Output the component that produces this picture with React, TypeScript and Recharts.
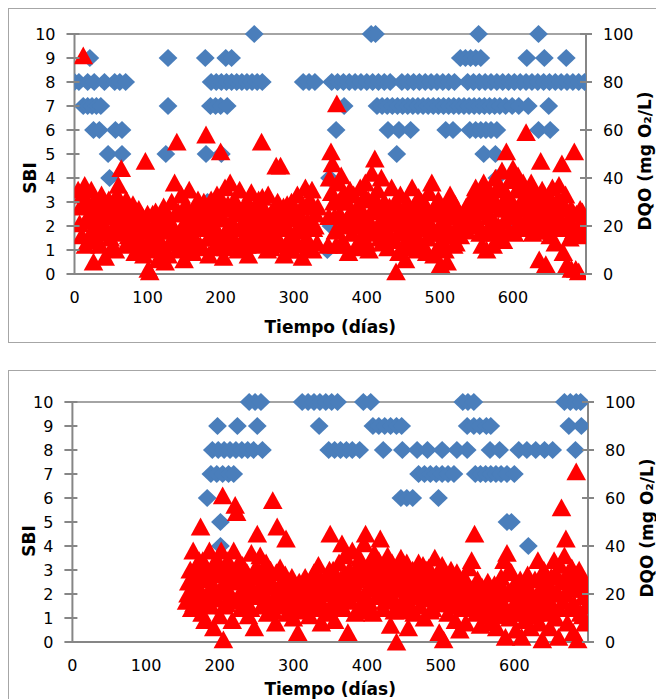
import { ScatterChart, Scatter, XAxis, YAxis, ReferenceLine } from "recharts";

const BLUE = "#4A7EBB";
const RED = "#FF0000";
const AXIS_GREY = "#868686";
const FRAME_GREY = "#A6A6A6";
const FONT = "'DejaVu Sans', sans-serif";

const dayTicks = [0, 100, 200, 300, 400, 500, 600];
const sbiTicks = [0, 1, 2, 3, 4, 5, 6, 7, 8, 9, 10];
const dqoTicks = [0, 20, 40, 60, 80, 100];

// upper reactor: SBI readings as [day, SBI]
const sbiTop: [number, number][] = [
  [246, 10], [406, 10], [412, 10], [553, 10], [635, 10],
  [21, 9], [128, 9], [179, 9], [207, 9], [215, 9], [528, 9], [535, 9], [542, 9], [549, 9], [556, 9], [619, 9], [643, 9], [673, 9],
  [0, 8], [6, 8], [18, 8], [27, 8], [41, 8], [55, 8], [62, 8], [70, 8],
  [187, 8], [194, 8], [201, 8], [208, 8], [215, 8], [222, 8], [229, 8], [236, 8], [243, 8], [250, 8], [257, 8],
  [313, 8], [321, 8], [329, 8],
  [352, 8], [360, 8], [368, 8], [376, 8], [384, 8], [392, 8], [400, 8], [408, 8], [416, 8], [424, 8], [432, 8],
  [448, 8], [456, 8], [464, 8], [472, 8], [480, 8], [488, 8], [496, 8], [504, 8], [512, 8], [520, 8],
  [538, 8], [546, 8], [554, 8], [562, 8], [570, 8], [578, 8], [586, 8], [594, 8], [602, 8], [610, 8], [618, 8],
  [626, 8], [634, 8], [642, 8], [650, 8], [658, 8], [666, 8], [674, 8], [682, 8], [690, 8], [698, 8],
  [12, 7], [18, 7], [24, 7], [30, 7], [36, 7], [128, 7], [186, 7], [193, 7], [200, 7], [209, 7], [369, 7],
  [414, 7], [421, 7], [428, 7], [435, 7], [442, 7], [449, 7], [456, 7], [463, 7], [470, 7], [477, 7],
  [484, 7], [491, 7], [498, 7], [505, 7], [512, 7], [519, 7], [526, 7], [533, 7], [540, 7], [547, 7],
  [554, 7], [561, 7], [568, 7], [575, 7], [582, 7], [590, 7], [599, 7], [608, 7], [621, 7], [649, 7],
  [26, 6], [34, 6], [56, 6], [65, 6], [358, 6], [429, 6], [444, 6], [460, 6], [508, 6], [518, 6],
  [541, 6], [549, 6], [556, 6], [563, 6], [570, 6], [578, 6], [635, 6], [651, 6],
  [46, 5], [65, 5], [125, 5], [180, 5], [201, 5], [441, 5], [560, 5], [576, 5],
  [48, 4], [349, 4], [578, 4],
  [182, 3],
  [351, 2], [600, 2],
  [346, 1],
];

// upper reactor: DQO as [day, mg O2/L]
const dqoTop: [number, number][] = [
  [5, 35], [8, 28], [10, 16], [12, 91], [14, 37], [16, 22], [18, 30], [20, 14], [22, 26], [24, 18],
  [26, 5], [28, 31], [30, 20], [33, 25], [35, 12], [38, 29], [40, 17], [42, 7], [45, 24], [47, 31],
  [49, 15], [52, 27], [54, 20], [56, 10], [58, 33], [60, 37], [62, 25], [64, 44], [66, 18], [68, 28],
  [70, 12], [72, 22], [75, 26], [78, 16], [80, 29], [83, 9], [85, 21], [88, 27], [90, 14], [93, 24],
  [95, 8], [97, 47], [99, 20], [101, 2], [103, 1], [105, 16], [107, 25], [110, 10], [112, 19], [114, 6],
  [117, 23], [119, 13], [122, 28], [124, 5], [126, 18], [128, 8], [131, 22], [133, 30], [135, 15], [137, 38],
  [140, 55], [142, 26], [144, 12], [146, 33], [148, 20], [150, 6], [152, 29], [155, 17], [157, 35], [160, 23],
  [162, 9], [164, 27], [166, 14], [169, 31], [171, 19], [173, 26], [175, 11], [177, 30], [180, 58], [182, 21],
  [184, 8], [186, 25], [188, 15], [190, 28], [193, 19], [195, 33], [197, 12], [200, 51], [202, 24], [204, 7],
  [206, 36], [208, 17], [210, 29], [213, 38], [215, 22], [217, 14], [219, 31], [222, 25], [224, 10], [226, 35],
  [228, 20], [231, 27], [233, 16], [235, 30], [238, 8], [240, 23], [242, 34], [245, 18], [247, 26], [249, 12],
  [252, 31], [254, 21], [256, 55], [258, 28], [260, 15], [262, 24], [265, 33], [267, 19], [269, 11], [272, 27],
  [274, 22], [276, 45], [278, 30], [280, 14], [282, 45], [284, 25], [287, 8], [289, 19], [291, 29], [294, 15],
  [296, 23], [298, 10], [300, 27], [303, 18], [305, 33], [307, 12], [310, 24], [312, 7], [314, 21], [316, 36],
  [318, 15], [320, 28], [323, 11], [325, 35], [327, 19], [330, 25], [332, 13],
  [347, 12], [349, 40], [351, 51], [353, 46], [355, 30], [357, 18], [359, 71], [361, 38], [363, 25], [365, 41],
  [367, 14], [369, 34], [371, 22], [373, 30], [375, 9], [378, 26], [380, 17], [382, 33], [384, 11], [387, 28],
  [389, 20], [391, 36], [393, 15], [396, 25], [398, 38], [400, 13], [402, 31], [404, 22], [407, 42], [409, 17],
  [411, 48], [413, 27], [415, 35], [418, 15], [420, 40], [422, 24], [424, 30], [427, 19], [429, 11], [431, 28],
  [434, 36], [436, 21], [438, 14], [440, 1], [442, 27], [444, 9], [446, 33], [449, 18], [451, 25], [453, 6],
  [455, 30], [458, 14], [460, 22], [462, 36], [465, 17], [467, 27], [469, 10], [471, 32], [474, 19], [476, 25],
  [478, 12], [480, 29], [483, 15], [485, 34], [487, 21], [489, 38], [492, 8], [494, 26], [496, 17], [498, 31],
  [501, 4], [503, 22], [505, 13], [508, 28], [510, 5], [512, 19], [514, 33], [517, 24], [519, 12], [521, 29],
  [524, 20], [526, 26], [528, 16], [531, 22], [534, 25], [537, 18], [540, 27], [543, 23], [546, 30], [549, 36],
  [551, 26], [553, 21], [556, 33], [558, 12], [560, 38], [562, 28], [564, 10], [567, 24], [569, 34], [571, 17],
  [573, 12], [576, 40], [578, 29], [580, 20], [582, 36], [585, 43], [587, 14], [589, 31], [591, 51], [593, 24],
  [596, 39], [598, 28], [600, 44], [602, 17], [605, 35], [607, 41], [609, 22], [611, 30], [614, 38], [616, 19],
  [618, 59], [620, 33], [622, 25], [625, 38], [627, 17], [629, 29], [632, 22], [634, 31], [636, 6], [638, 47],
  [640, 35], [642, 20], [645, 4], [647, 26], [649, 33], [651, 16], [654, 36], [656, 24], [658, 13], [660, 30],
  [663, 37], [665, 21], [667, 46], [669, 9], [671, 28], [674, 4], [676, 23], [678, 15], [680, 2], [682, 26],
  [684, 51], [686, 2], [688, 19], [690, 1], [692, 27], [694, 16], [696, 22],
  [7, 21], [11, 33], [15, 12], [19, 24], [23, 35], [29, 15], [32, 22], [37, 33], [43, 19], [46, 28],
  [51, 11], [55, 24], [59, 17], [63, 30], [67, 22], [71, 31], [74, 16], [77, 22], [81, 13], [84, 25],
  [87, 18], [92, 11], [96, 19], [100, 25], [104, 12], [108, 20], [111, 26], [115, 14], [118, 18], [121, 9],
  [125, 24], [130, 13], [134, 20], [138, 25], [141, 10], [145, 18], [149, 26], [153, 13], [156, 22], [159, 11],
  [163, 19], [168, 24], [172, 12], [176, 20], [179, 27], [183, 15], [187, 31], [191, 11], [196, 23], [199, 16],
  [203, 30], [207, 11], [211, 20], [214, 27], [218, 19], [221, 13], [225, 27], [229, 14], [232, 22], [236, 12],
  [239, 29], [243, 15], [246, 20], [250, 24], [253, 14], [257, 32], [261, 19], [264, 10], [268, 24], [271, 15],
  [275, 20], [279, 23], [283, 12], [286, 28], [290, 20], [293, 10], [297, 30], [301, 14], [304, 24], [308, 19],
  [311, 28], [315, 13], [319, 22], [322, 31], [326, 10], [329, 20], [333, 28],
  [348, 24], [352, 34], [356, 24], [358, 12], [362, 30], [366, 20], [370, 12], [374, 22], [377, 35], [381, 25],
  [385, 20], [388, 12], [392, 22], [395, 31], [399, 19], [403, 10], [406, 26], [410, 32], [414, 18], [417, 28],
  [421, 13], [425, 22], [428, 27], [432, 16], [435, 24], [439, 30], [443, 17], [447, 22], [450, 12], [454, 19],
  [457, 26], [461, 11], [464, 28], [468, 20], [472, 14], [475, 30], [479, 22], [482, 9], [486, 25], [490, 17],
  [493, 28], [497, 11], [500, 25], [504, 18], [507, 10], [511, 24], [515, 16], [518, 30], [522, 13], [525, 21],
  [529, 24], [533, 19], [536, 28], [539, 21], [542, 31], [545, 20], [548, 26], [552, 31], [555, 17], [559, 26],
  [563, 33], [566, 19], [570, 30], [574, 22], [577, 35], [581, 15], [584, 27], [588, 22], [592, 33], [595, 18],
  [599, 30], [603, 25], [606, 20], [610, 36], [613, 27], [617, 31], [621, 20], [624, 28], [628, 35], [631, 18],
  [635, 25], [639, 28], [643, 30], [646, 18], [650, 22], [653, 28], [657, 19], [661, 25], [664, 30], [668, 19],
  [672, 33], [675, 21], [679, 27], [683, 18], [687, 25], [691, 21], [695, 26], [698, 18],
];

// lower reactor: SBI readings as [day, SBI]
const sbiBottom: [number, number][] = [
  [240, 10], [248, 10], [256, 10], [312, 10], [320, 10], [328, 10], [336, 10], [344, 10], [352, 10], [360, 10],
  [395, 10], [405, 10], [530, 10], [537, 10], [545, 10], [668, 10], [676, 10], [684, 10], [690, 10],
  [197, 9], [224, 9], [251, 9], [335, 9], [408, 9], [416, 9], [424, 9], [432, 9], [440, 9], [447, 9],
  [536, 9], [545, 9], [553, 9], [562, 9], [568, 9], [674, 9], [691, 9],
  [190, 8], [198, 8], [206, 8], [214, 8], [222, 8], [230, 8], [238, 8], [246, 8], [258, 8],
  [348, 8], [356, 8], [364, 8], [372, 8], [380, 8], [390, 8], [422, 8], [448, 8], [468, 8], [482, 8],
  [502, 8], [522, 8], [536, 8], [567, 8], [580, 8], [606, 8], [617, 8], [629, 8], [641, 8], [652, 8], [683, 8],
  [188, 7], [196, 7], [204, 7], [212, 7], [219, 7], [470, 7], [478, 7], [486, 7], [494, 7], [502, 7], [510, 7],
  [518, 7], [547, 7], [554, 7], [561, 7], [568, 7], [575, 7], [582, 7], [590, 7], [600, 7],
  [183, 6], [446, 6], [454, 6], [462, 6], [497, 6],
  [201, 5], [590, 5], [596, 5],
  [201, 4], [619, 4],
];

// lower reactor: DQO as [day, mg O2/L]
const dqoBottom: [number, number][] = [
  [155, 17], [158, 25], [160, 30], [162, 14], [164, 38], [166, 22], [168, 28], [170, 19], [172, 34], [174, 48],
  [176, 12], [178, 26], [180, 9], [182, 31], [184, 20], [186, 38], [188, 15], [190, 24], [192, 6], [194, 33],
  [196, 18], [198, 28], [200, 11], [202, 38], [204, 61], [205, 1], [207, 24], [209, 16], [211, 34], [213, 21],
  [215, 29], [217, 9], [219, 38], [221, 57], [223, 54], [225, 19], [227, 27], [229, 14], [231, 32], [233, 22],
  [235, 17], [237, 29], [239, 11], [241, 24], [243, 37], [245, 19], [247, 6], [249, 31], [251, 45], [253, 22],
  [255, 36], [257, 15], [259, 27], [261, 20], [263, 33], [265, 12], [267, 25], [269, 30], [271, 17], [272, 59],
  [274, 23], [276, 8], [278, 48], [280, 21], [282, 31], [284, 15], [286, 26], [288, 19], [290, 43], [292, 12],
  [294, 24], [296, 18], [298, 27], [300, 10], [302, 22], [304, 16], [306, 4], [308, 25], [310, 19], [312, 13],
  [314, 23], [316, 27], [318, 15], [320, 20], [322, 11], [324, 26], [326, 18], [328, 29], [330, 14], [332, 22],
  [334, 32], [336, 17], [338, 8], [340, 25], [342, 20], [344, 12], [346, 27], [348, 21], [350, 45], [352, 16],
  [354, 30], [356, 9], [358, 24], [360, 19], [362, 33], [364, 26], [366, 41], [368, 14], [370, 36], [372, 22],
  [374, 4], [376, 30], [378, 17], [380, 38], [382, 25], [384, 12], [386, 31], [388, 20], [390, 35], [392, 15],
  [394, 27], [396, 41], [398, 45], [400, 22], [402, 17], [404, 33], [406, 24], [408, 12], [410, 37], [412, 28],
  [414, 19], [416, 34], [418, 43], [420, 25], [422, 14], [424, 31], [426, 20], [428, 36], [430, 27], [432, 7],
  [434, 33], [436, 18], [438, 24], [440, 0], [442, 30], [444, 13], [446, 35], [448, 22], [450, 28], [452, 16],
  [454, 33], [456, 6], [458, 25], [460, 19], [462, 30], [464, 12], [466, 27], [468, 20], [470, 33], [472, 15],
  [474, 24], [476, 32], [478, 10], [480, 28], [482, 18], [484, 31], [486, 13], [488, 26], [490, 21], [492, 35],
  [494, 16], [496, 29], [498, 4], [500, 24], [502, 32], [504, 1], [506, 19], [508, 27], [510, 12], [512, 23],
  [514, 30], [516, 15], [518, 26], [520, 9], [522, 29], [524, 18], [526, 5], [528, 24], [530, 14], [532, 27],
  [534, 8], [536, 20], [538, 31], [540, 16], [542, 34], [544, 22], [546, 45], [548, 12], [550, 26], [552, 19],
  [554, 7], [556, 23], [558, 15], [560, 20], [562, 11], [564, 25], [566, 17], [568, 8], [570, 21], [572, 14],
  [574, 19], [576, 6], [578, 23], [580, 12], [582, 27], [584, 16], [586, 34], [588, 2], [590, 37], [592, 21],
  [594, 10], [596, 29], [598, 15], [600, 24], [602, 5], [604, 18], [606, 12], [608, 26], [610, 2], [612, 17],
  [614, 9], [616, 22], [618, 28], [620, 14], [622, 6], [624, 20], [626, 11], [628, 26], [630, 16], [632, 34],
  [634, 8], [636, 22], [638, 1], [640, 30], [642, 13], [644, 24], [646, 18], [648, 6], [650, 27], [652, 15],
  [654, 34], [656, 10], [658, 21], [660, 2], [662, 32], [664, 56], [666, 17], [668, 36], [670, 43], [672, 8],
  [674, 26], [676, 14], [678, 31], [680, 4], [682, 23], [684, 71], [686, 1], [688, 30], [690, 12], [692, 27],
  [694, 19], [696, 8], [698, 15],
  [157, 20], [161, 26], [165, 16], [169, 30], [173, 22], [177, 34], [181, 17], [185, 27], [189, 31], [193, 21],
  [197, 34], [201, 22], [203, 29], [206, 15], [210, 27], [214, 31], [218, 17], [222, 25], [226, 33], [230, 20],
  [234, 28], [238, 21], [242, 14], [246, 27], [250, 20], [254, 29], [258, 23], [262, 16], [266, 31], [270, 24],
  [273, 13], [277, 29], [281, 19], [285, 23], [289, 28], [293, 18], [297, 22], [301, 16], [305, 21], [309, 14],
  [313, 19], [317, 24], [321, 17], [325, 22], [329, 24], [333, 18], [337, 26], [341, 15], [345, 21], [349, 30],
  [353, 23], [357, 28], [361, 14], [365, 22], [369, 28], [373, 18], [377, 25], [381, 21], [385, 26], [389, 13],
  [393, 30], [397, 19], [401, 28], [405, 14], [409, 25], [413, 31], [417, 21], [421, 28], [425, 17], [429, 24],
  [433, 29], [437, 13], [441, 22], [445, 27], [449, 18], [453, 24], [457, 30], [461, 14], [465, 21], [469, 27],
  [473, 19], [477, 25], [481, 30], [485, 22], [489, 14], [493, 25], [497, 20], [501, 17], [505, 26], [509, 21],
  [513, 16], [517, 21], [521, 17], [525, 23], [529, 19], [533, 14], [537, 24], [541, 22], [545, 18], [549, 20],
  [553, 13], [557, 18], [561, 22], [565, 13], [569, 16], [573, 24], [577, 11], [581, 18], [585, 22], [589, 14],
  [593, 30], [597, 20], [601, 12], [605, 22], [609, 16], [613, 24], [617, 13], [621, 21], [625, 17], [629, 12],
  [633, 21], [637, 26], [641, 19], [645, 12], [649, 23], [653, 20], [657, 28], [661, 14], [665, 25], [669, 20],
  [673, 29], [677, 22], [681, 16], [685, 28], [689, 22], [693, 11], [697, 24],
];

const toPoints = (rows: [number, number][]) => rows.map(([x, y]) => ({ x, y }));

const Diamond = ({ cx, cy }: any) => (
  <polygon
    points={`${cx},${cy - 9} ${cx + 9.4},${cy} ${cx},${cy + 9} ${cx - 9.4},${cy}`}
    fill={BLUE}
  />
);

const Triangle = ({ cx, cy }: any) => (
  <polygon
    points={`${cx},${cy - 9.2} ${cx + 9.8},${cy + 8.6} ${cx - 9.8},${cy + 8.6}`}
    fill={RED}
  />
);

// left ticks cross the axis: 8px outside, 5px inside
const LeftTick = ({ x, y, payload }: any) => (
  <g>
    <line x1={x + 11} y1={y} x2={x + 24} y2={y} stroke={AXIS_GREY} strokeWidth={2} />
    <text x={x} y={y} dy="0.36em" textAnchor="end" fill="#000" fontSize={16} fontFamily={FONT}>
      {payload.value}
    </text>
  </g>
);

// right ticks: 6px each side of the axis
const RightTick = ({ x, y, payload }: any) => (
  <g>
    <line x1={x - 23} y1={y} x2={x - 11} y2={y} stroke={AXIS_GREY} strokeWidth={2} />
    <text x={x} y={y} dy="0.36em" textAnchor="start" fill="#000" fontSize={16} fontFamily={FONT}>
      {payload.value}
    </text>
  </g>
);

const titleStyle = { fill: "#000", fontSize: 17, fontWeight: "bold", fontFamily: FONT };

type PanelProps = {
  sbi: [number, number][];
  dqo: [number, number][];
  height: number;
  top: number;
  right: number;
  leftWidth: number;
  xHeight: number;
  titleOffset: number;
  sbiDy: number;
  dqoDy: number;
};

function Panel({ sbi, dqo, height, top, right, leftWidth, xHeight, titleOffset, sbiDy, dqoDy }: PanelProps) {
  return (
    <ScatterChart width={700} height={height} margin={{ top, right, bottom: 0, left: 0 }}>
      <XAxis
        type="number"
        dataKey="x"
        domain={[0, 700]}
        ticks={dayTicks}
        interval={0}
        allowDataOverflow
        height={xHeight}
        tickLine={false}
        tickSize={0}
        tickMargin={18}
        axisLine={{ stroke: AXIS_GREY, strokeWidth: 2 }}
        tick={{ fill: "#000", fontSize: 16, fontFamily: FONT }}
        label={{ value: "Tiempo (días)", position: "insideBottom", offset: titleOffset, ...titleStyle }}
      />
      <YAxis
        yAxisId="sbi"
        type="number"
        dataKey="y"
        domain={[0, 10]}
        ticks={sbiTicks}
        interval={0}
        width={leftWidth}
        tickLine={false}
        tickSize={8}
        tickMargin={11}
        axisLine={{ stroke: AXIS_GREY, strokeWidth: 2 }}
        tick={<LeftTick />}
        label={{ value: "SBI", angle: -90, position: "center", dx: -12, dy: sbiDy, ...titleStyle }}
      />
      <YAxis
        yAxisId="dqo"
        orientation="right"
        type="number"
        dataKey="y"
        domain={[0, 100]}
        ticks={dqoTicks}
        interval={0}
        width={60}
        tickLine={false}
        tickSize={6}
        tickMargin={11}
        axisLine={{ stroke: AXIS_GREY, strokeWidth: 2 }}
        tick={<RightTick />}
        label={{ value: "DQO (mg O₂/L)", angle: -90, position: "center", dx: 29, dy: dqoDy, ...titleStyle }}
      />
      <ReferenceLine yAxisId="sbi" y={10} stroke={AXIS_GREY} strokeWidth={1.5} />
      <Scatter yAxisId="sbi" data={toPoints(sbi)} shape={Diamond} isAnimationActive={false} />
      <Scatter yAxisId="dqo" data={toPoints(dqo)} shape={Triangle} isAnimationActive={false} />
    </ScatterChart>
  );
}

const boxStyle = {
  border: `1px solid ${FRAME_GREY}`,
  width: 720,
  overflow: "hidden" as const,
  background: "#fff",
};

export default function App() {
  return (
    <div style={{ position: "absolute", top: 8, left: 8, width: 648, height: 691, overflow: "hidden" }}>
      <div style={{ ...boxStyle, height: 333 }}>
        <Panel
          sbi={sbiTop}
          dqo={dqoTop}
          height={333}
          top={25}
          right={63}
          leftWidth={65.5}
          xHeight={68}
          titleOffset={9}
          sbiDy={24}
          dqoDy={7}
        />
      </div>
      <div style={{ ...boxStyle, height: 340, marginTop: 27 }}>
        <Panel
          sbi={sbiBottom}
          dqo={dqoBottom}
          height={330}
          top={31}
          right={61}
          leftWidth={63.4}
          xHeight={59}
          titleOffset={6}
          sbiDy={19}
          dqoDy={6}
        />
      </div>
    </div>
  );
}
